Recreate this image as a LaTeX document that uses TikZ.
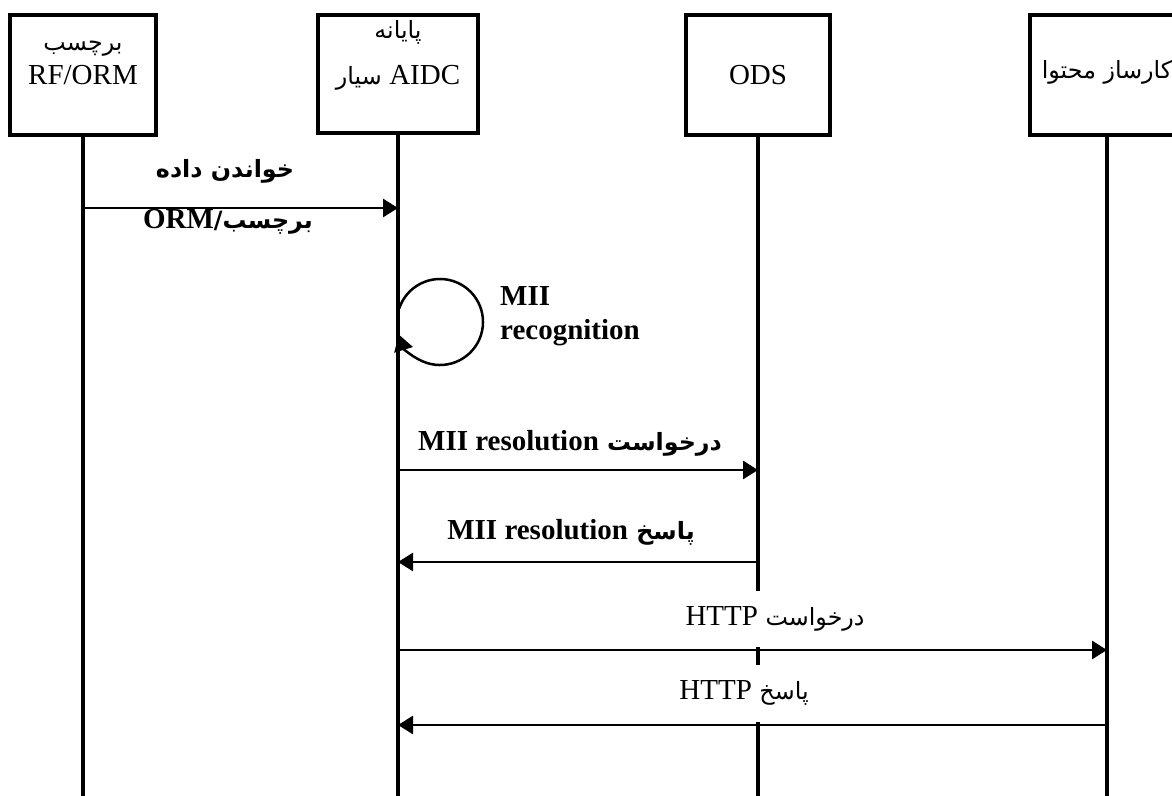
\documentclass[tikz,border=0pt]{standalone}
\usepackage{fontspec}
\setmainfont{Liberation Serif}
\newfontfamily\fa[Script=Arabic,Scale=0.82]{DejaVu Sans}
\TeXXeTstate=1
\usetikzlibrary{arrows.meta}
\begin{document}
\begin{tikzpicture}[x=1pt,y=-1pt,
  box/.style={draw,line width=3.5pt,inner sep=0pt},
  life/.style={line width=3.8pt},
  msg/.style={line width=2.8pt,-{Triangle[length=15pt,width=18pt]}},
  selfmsg/.style={line width=2.5pt,-{Triangle[length=16pt,width=19pt]}},
  txt/.style={font=\fontsize{29}{34}\selectfont,inner sep=0pt,align=center},
  btxt/.style={font=\fontsize{29}{34}\selectfont\bfseries,inner sep=0pt,align=center},
  cover/.style={fill=white,inner sep=0pt}
]
\useasboundingbox (0,0) rectangle (1172,795);
\clip (0,0) rectangle (1172,795);

% actor boxes
\node[box,minimum width=146pt,minimum height=120pt] (tag) at (83,75) {};
\node[box,minimum width=160pt,minimum height=118pt] (term) at (398,74) {};
\node[box,minimum width=144pt,minimum height=120pt] (ods) at (758,75) {};
\node[box,minimum width=154pt,minimum height=120pt] (cs) at (1107,75) {};

\node[txt] (tagT) at (83,63) {{\fa برچسب}\\RF/ORM};
\node[txt] (termT) at (398,55) {{\fa پایانه}\\[12pt]{\fa\beginR{\rmfamily AIDC} سیار\endR}};
\node[txt] (odsT) at (758,75) {ODS};
\node[txt] (csT) at (1107,72) {\fa\beginR کارساز محتوا\endR};

% lifelines
\coordinate (tagE) at (83,800);
\coordinate (termE) at (398,800);
\coordinate (odsE) at (758,800);
\coordinate (csE) at (1107,800);
\draw[life] (tag.south) -- (tagE);
\draw[life] (term.south) -- (termE);
\draw[life] (ods.south) -- (odsE);
\draw[life] (cs.south) -- (csE);

% message rows
\coordinate (r1) at (0,208);
\coordinate (r2) at (0,470);
\coordinate (r3) at (0,562);
\coordinate (r4) at (0,650);
\coordinate (r5) at (0,725);

% 1: read tag data
\node[btxt] (l1a) at (225,171) {\fa\beginR خواندن داده\endR};
\node[btxt] (l1b) at (228,222) {\fa\beginR برچسب/{\rmfamily ORM}\endR};
\draw[msg] (tag |- r1) -- (term |- r1);

% self loop: MII recognition
\coordinate (lc) at (440,322);
\begin{scope}[x=1pt,y=1pt]
\draw[selfmsg] ([shift={(162:43)}]lc) arc[start angle=162,end angle=-163,radius=43];
\end{scope}
\node[btxt,align=left,anchor=west] (l2) at (500,316) {MII\\recognition};

% 3: MII resolution request
\node[btxt] (l3) at (570,443) {\fa\beginR درخواست {\rmfamily\beginL MII resolution\endL}\endR};
\draw[msg] (term |- r2) -- (ods |- r2);

% 4: MII resolution response
\node[btxt] (l4) at (571,532) {\fa\beginR پاسخ {\rmfamily\beginL MII resolution\endL}\endR};
\draw[msg] (ods |- r3) -- (term |- r3);

% 5: HTTP request
\node[txt,cover,minimum height=56pt,minimum width=200pt,anchor=south] (l5) at (775,647) {\fa\beginR درخواست {\rmfamily HTTP}\endR};
\draw[msg] (term |- r4) -- (cs |- r4);

% 6: HTTP response
\node[txt,cover,minimum height=57pt,minimum width=180pt,anchor=south] (l6) at (744,722) {\fa\beginR پاسخ {\rmfamily HTTP}\endR};
\draw[msg] (cs |- r5) -- (term |- r5);
\end{tikzpicture}
\end{document}
